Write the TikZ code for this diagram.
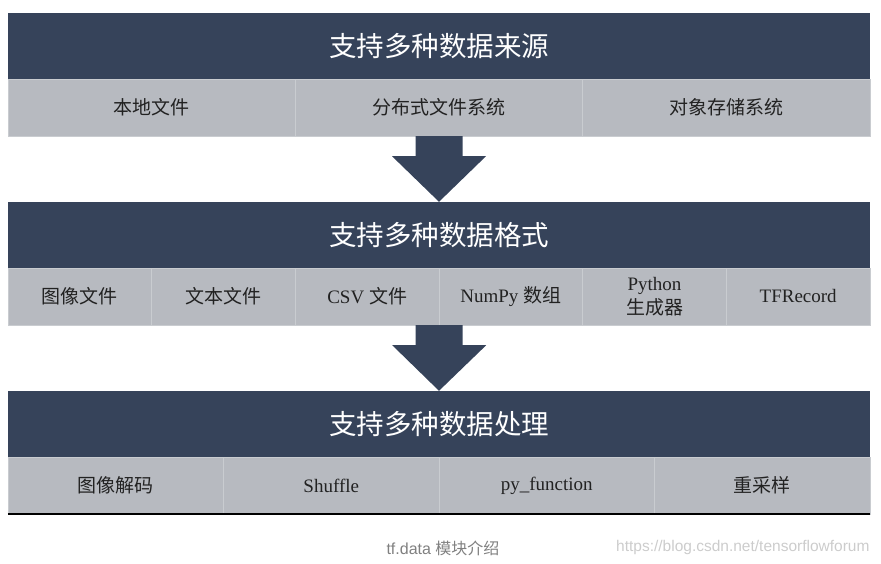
\documentclass[tikz,border=0pt]{standalone}
\usepackage{fontspec}
\setmainfont{Liberation Serif}
\newfontfamily\cjk{Noto Sans CJK SC}
\newfontfamily\capfont{Liberation Sans}
\usetikzlibrary{calc}

\definecolor{bandblue}{HTML}{36435A}
\definecolor{cellgray}{HTML}{B7BAC0}
\definecolor{cellline}{HTML}{C9CCD0}
\definecolor{baseline}{HTML}{62656C}
\definecolor{cellink}{HTML}{222222}

\tikzset{
  band/.style={fill=bandblue, text=white, minimum width=862pt, minimum height=66pt,
    inner sep=0pt, font=\cjk\fontsize{27.5}{28}\selectfont},
  cell/.style={fill=cellgray, draw=cellline, text=cellink, minimum height=57pt,
    inner sep=0pt, align=center, font=\fontsize{19}{24}\selectfont},
  datarrow/.style={fill=bandblue}
}

\begin{document}
\begin{tikzpicture}[x=1pt,y=-1pt]
\useasboundingbox (0,0) rectangle (881,564);

% Data sources
\node[band] (b1) at (439,46) {支持多种数据来源};
\node[cell, minimum width=287.33pt] (r1a) at (151.67,107.5) {\cjk 本地文件};
\node[cell, minimum width=287.33pt] (r1b) at (439,107.5) {\cjk 分布式文件系统};
\node[cell, minimum width=287.33pt] (r1c) at (726.33,107.5) {\cjk 对象存储系统};

% Data formats
\node[band] (b2) at (439,235) {支持多种数据格式};
\node[cell, minimum width=143.67pt] (r2a) at (79.83,296.5) {\cjk 图像文件};
\node[cell, minimum width=143.67pt] (r2b) at (223.5,296.5) {\cjk 文本文件};
\node[cell, minimum width=143.67pt] (r2c) at (367.17,296.5) {CSV {\cjk 文件}};
\node[cell, minimum width=143.67pt] (r2d) at (510.83,296.5) {NumPy {\cjk 数组}};
\node[cell, minimum width=143.67pt] (r2e) at (654.5,296.5) {Python\\{\cjk 生成器}};
\node[cell, minimum width=143.67pt] (r2f) at (798.17,296.5) {TFRecord};

% Data processing
\node[band] (b3) at (439,424) {支持多种数据处理};
\node[cell, minimum width=215.5pt] (r3a) at (115.75,485.5) {\cjk 图像解码};
\node[cell, minimum width=215.5pt] (r3b) at (331.25,485.5) {Shuffle};
\node[cell, minimum width=215.5pt] (r3c) at (546.75,485.5) {py\_function};
\node[cell, minimum width=215.5pt] (r3d) at (762.25,485.5) {\cjk 重采样};
\draw[baseline, line width=2.2pt] (r3a.south west) -- (r3d.south east);

% Arrows between stages
\fill[datarrow] ($(r1b.south)+(-23.5,0)$) -- ++(47,0) -- ++(0,20) -- ++(23.5,0)
  -- (b2.north) -- ($(r1b.south)+(-47,20)$) -- ++(23.5,0) -- cycle;
\fill[datarrow] ($(r2c.south east)+(-23.5,0)$) -- ++(47,0) -- ++(0,20) -- ++(23.5,0)
  -- (b3.north) -- ($(r2c.south east)+(-47,20)$) -- ++(23.5,0) -- cycle;

% Caption and watermark
\node[text=black!50, font=\capfont\fontsize{16}{16}\selectfont] (cap) at (443,548)
  {tf.data {\cjk 模块介绍}};
\node[anchor=east, text=black!20, font=\capfont\fontsize{15.5}{16}\selectfont] (wm) at (873,547)
  {https://blog.csdn.net/tensorflowforum};
\end{tikzpicture}
\end{document}
